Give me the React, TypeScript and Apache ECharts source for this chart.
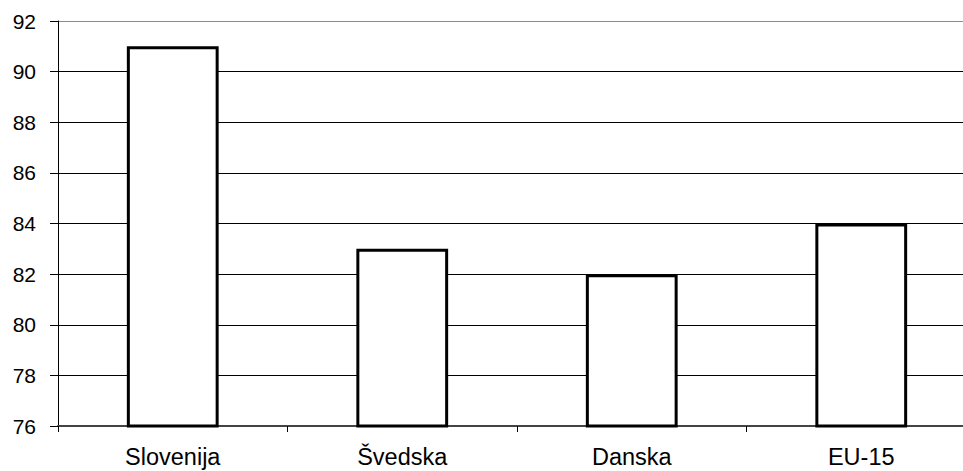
import React, { useEffect, useRef } from "react";
import * as echarts from "echarts";

const categories = ["Slovenija", "Švedska", "Danska", "EU-15"];
const values = [91, 83, 82, 84];
const yMin = 76;
const yMax = 92;
const yInterval = 2;

export default function App() {
  const ref = useRef<HTMLDivElement>(null);
  useEffect(() => {
    if (!ref.current) return;
    const chart = echarts.init(ref.current, null, { renderer: "svg" });
    const splitColors = ["#000", "#000", "#000", "#000", "#000", "#000", "#000", "#000", "#8c8c8c"];
    chart.setOption({
      animation: false,
      backgroundColor: "#fff",
      grid: { left: 58, top: 21, width: 918, height: 405, containLabel: false },
      xAxis: {
        type: "category",
        data: categories,
        boundaryGap: true,
        axisLine: { show: true, lineStyle: { color: "#444", width: 2 } },
        axisTick: { show: true, length: 6, lineStyle: { color: "#000", width: 1 } },
        axisLabel: {
          color: "#000",
          fontFamily: "Liberation Sans, Arial, sans-serif",
          fontSize: 23.5,
          margin: 19,
        },
        splitLine: { show: false },
      },
      yAxis: {
        type: "value",
        min: yMin,
        max: yMax,
        interval: yInterval,
        axisLine: { show: true, lineStyle: { color: "#000", width: 1 } },
        axisTick: { show: true, length: 8, lineStyle: { color: "#000", width: 1 } },
        axisLabel: {
          color: "#000",
          fontFamily: "Liberation Sans, Arial, sans-serif",
          fontSize: 21,
          margin: 22,
        },
        splitLine: { show: true, lineStyle: { color: splitColors, width: 1 } },
      },
      series: [
        {
          type: "bar",
          data: values,
          barWidth: "40%",
          itemStyle: { color: "#fff", borderColor: "#000", borderWidth: 3 },
        },
      ],
    });
    return () => chart.dispose();
  }, []);
  return (
    <div style={{ width: 963, height: 471, position: "absolute", left: 0, top: 0, overflow: "hidden", background: "#fff" }}>
      <div ref={ref} style={{ width: 980, height: 471 }} />
    </div>
  );
}
